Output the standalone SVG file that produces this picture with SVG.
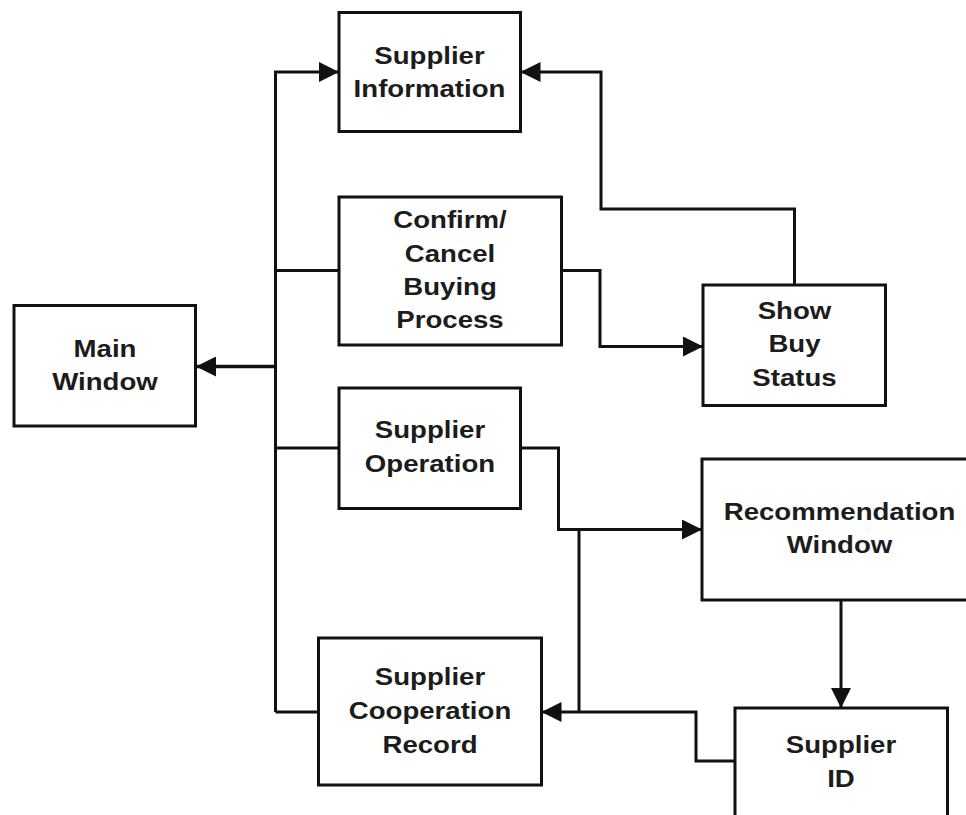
<svg xmlns="http://www.w3.org/2000/svg" width="966" height="815" viewBox="0 0 966 815">
  <style>
    .box { fill: #ffffff; stroke: #111111; stroke-width: 3; }
    .wire { fill: none; stroke: #111111; stroke-width: 3; stroke-linejoin: miter; }
    .wire.heavy { stroke-width: 3.5; }
    .label { font-family: "Liberation Sans", Arial, sans-serif; font-weight: bold; font-size: 24px; fill: #1c1c1c; text-anchor: middle; }
  </style>
  <defs>
    <marker id="arrow" markerUnits="userSpaceOnUse" markerWidth="20" markerHeight="20" refX="20" refY="10" orient="auto">
      <path d="M0,0 L20,10 L0,20 Z" fill="#111111"/>
    </marker>
  </defs>
  <rect width="966" height="815" fill="#ffffff"/>

  <!-- connectors -->
  <g id="connectors">
    <!-- trunk to Supplier Information -->
    <path class="wire" d="M275.5 712 V72 H339" marker-end="url(#arrow)"/>
    <!-- branches joining the trunk -->
    <path class="wire" d="M339 270.5 H275.5"/>
    <path class="wire" d="M339 448 H275.5"/>
    <path class="wire" d="M318.5 712 H275.5"/>
    <!-- trunk to Main Window -->
    <path class="wire heavy" d="M275.5 366.5 H196" marker-end="url(#arrow)"/>
    <!-- Show Buy Status to Supplier Information -->
    <path class="wire" d="M794.5 285 V209 H601 V72 H520.5" marker-end="url(#arrow)"/>
    <!-- Confirm/Cancel to Show Buy Status -->
    <path class="wire" d="M561.5 270.5 H600 V346.5 H703" marker-end="url(#arrow)"/>
    <!-- Supplier Operation to Recommendation Window -->
    <path class="wire" d="M520.5 448 H558.5 V529.5 H702" marker-end="url(#arrow)"/>
    <!-- drop from the recommendation line to the record line -->
    <path class="wire" d="M579 529.5 V712"/>
    <!-- Recommendation Window to Supplier ID -->
    <path class="wire" d="M841 600 V708" marker-end="url(#arrow)"/>
    <!-- Supplier ID to Supplier Cooperation Record -->
    <path class="wire" d="M735 761 H696 V712 H541.5" marker-end="url(#arrow)"/>
  </g>

  <g id="main-window">
    <rect class="box" x="14" y="305.5" width="181.5" height="120.5"/>
    <text class="label" transform="translate(105 0) scale(1.15 1)"><tspan x="0" y="357">Main</tspan><tspan x="0" y="390">Window</tspan></text>
  </g>

  <g id="supplier-information">
    <rect class="box" x="339" y="12.5" width="181.5" height="119"/>
    <text class="label" transform="translate(429.5 0) scale(1.15 1)"><tspan x="0" y="64">Supplier</tspan><tspan x="0" y="97">Information</tspan></text>
  </g>

  <g id="confirm-cancel">
    <rect class="box" x="339" y="197" width="222.5" height="148"/>
    <text class="label" transform="translate(450 0) scale(1.15 1)"><tspan x="0" y="228">Confirm/</tspan><tspan x="0" y="262">Cancel</tspan><tspan x="0" y="295">Buying</tspan><tspan x="0" y="328.5">Process</tspan></text>
  </g>

  <g id="show-buy-status">
    <rect class="box" x="703" y="285" width="182.5" height="120.5"/>
    <text class="label" transform="translate(794.5 0) scale(1.15 1)"><tspan x="0" y="319.5">Show</tspan><tspan x="0" y="352">Buy</tspan><tspan x="0" y="386.5">Status</tspan></text>
  </g>

  <g id="supplier-operation">
    <rect class="box" x="339" y="388" width="181.5" height="120.5"/>
    <text class="label" transform="translate(430 0) scale(1.15 1)"><tspan x="0" y="438.5">Supplier</tspan><tspan x="0" y="472">Operation</tspan></text>
  </g>

  <g id="recommendation-window">
    <rect class="box" x="702" y="459" width="278" height="141"/>
    <text class="label" transform="translate(839.5 0) scale(1.15 1)"><tspan x="0" y="520">Recommendation</tspan><tspan x="0" y="553.5">Window</tspan></text>
  </g>

  <g id="supplier-cooperation-record">
    <rect class="box" x="318.5" y="638" width="223" height="147"/>
    <text class="label" transform="translate(430 0) scale(1.15 1)"><tspan x="0" y="685">Supplier</tspan><tspan x="0" y="719">Cooperation</tspan><tspan x="0" y="753.5">Record</tspan></text>
  </g>

  <g id="supplier-id">
    <rect class="box" x="735" y="708" width="212.5" height="122"/>
    <text class="label" transform="translate(841 0) scale(1.15 1)"><tspan x="0" y="753">Supplier</tspan><tspan x="0" y="787">ID</tspan></text>
  </g>
</svg>
